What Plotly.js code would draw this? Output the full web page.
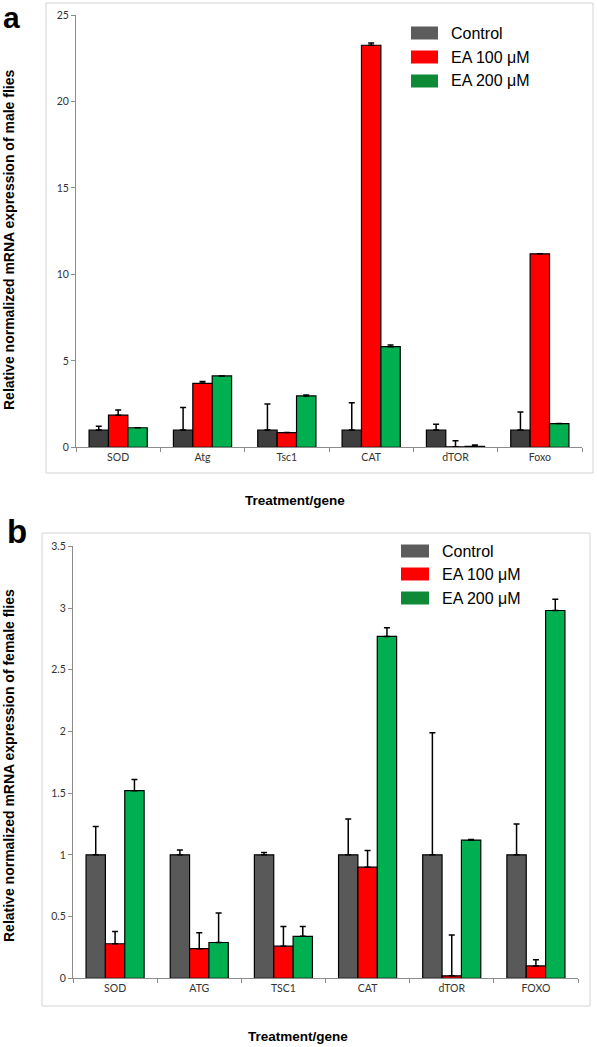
<!DOCTYPE html>
<html>
<head>
<meta charset="utf-8">
<script src="https://cdn.plot.ly/plotly-3.0.1.min.js"></script>
<style>
html,body{margin:0;padding:0;background:#fff;}
#chart{width:597px;height:1047px;}
</style>
</head>
<body>
<div id="chart"></div>
<script>
// ---- Data: panel a (male flies) ----
var genesMale = ["SOD", "Atg", "Tsc1", "CAT", "dTOR", "Foxo"];
var maleControl = [1.0, 1.0, 1.0, 1.0, 1.0, 1.0];
var maleControlErr = [0.22, 1.3, 1.5, 1.58, 0.33, 1.04];
var maleEA100 = [1.86, 3.70, 0.85, 23.25, 0.03, 11.19];
var maleEA100Err = [0.3, 0.1, 0.0, 0.13, 0.35, 0.0];
var maleEA200 = [1.13, 4.13, 2.97, 5.82, 0.05, 1.37];
var maleEA200Err = [0.0, 0.0, 0.05, 0.09, 0.08, 0.0];

// ---- Data: panel b (female flies) ----
var genesFemale = ["SOD", "ATG", "TSC1", "CAT", "dTOR", "FOXO"];
var femaleControl = [1.0, 1.0, 1.0, 1.0, 1.0, 1.0];
var femaleControlErr = [0.23, 0.04, 0.02, 0.29, 0.99, 0.25];
var femaleEA100 = [0.28, 0.24, 0.26, 0.90, 0.02, 0.10];
var femaleEA100Err = [0.10, 0.13, 0.16, 0.135, 0.33, 0.05];
var femaleEA200 = [1.52, 0.29, 0.34, 2.77, 1.12, 2.98];
var femaleEA200Err = [0.09, 0.24, 0.08, 0.07, 0.005, 0.09];

var seriesNames = ["Control", "EA 100 \u03bcM", "EA 200 \u03bcM"];
var maleTickVals = [0, 5, 10, 15, 20, 25];
var femaleTickVals = [0, 0.5, 1, 1.5, 2, 2.5, 3, 3.5];

var colControlA = "#3e3e3e", colControlB = "#595959";
var colRed = "#ff0000", colGreen = "#00b050";
var legendColors = ["#5c5c5c", "#ff0000", "#0e8a36"];

function zeros(n){ var a=[]; for(var i=0;i<n;i++) a.push(0); return a; }

function barTrace(x, y, err, color, xa, ya, name){
  return {
    type: "bar", x: x, y: y, name: name, xaxis: xa, yaxis: ya, showlegend: false,
    marker: {color: color, line: {color: "#000", width: 1.2}},
    error_y: {type: "data", symmetric: false, array: err, arrayminus: zeros(err.length),
              color: "#000", thickness: 1.5, width: 3},
    hoverinfo: "x+y"
  };
}

var data = [
  barTrace(genesMale, maleControl, maleControlErr, colControlA, "x", "y", seriesNames[0]),
  barTrace(genesMale, maleEA100, maleEA100Err, colRed, "x", "y", seriesNames[1]),
  barTrace(genesMale, maleEA200, maleEA200Err, colGreen, "x", "y", seriesNames[2]),
  barTrace(genesFemale, femaleControl, femaleControlErr, colControlB, "x2", "y2", seriesNames[0]),
  barTrace(genesFemale, femaleEA100, femaleEA100Err, colRed, "x2", "y2", seriesNames[1]),
  barTrace(genesFemale, femaleEA200, femaleEA200Err, colGreen, "x2", "y2", seriesNames[2])
];

var W = 597, H = 1047;
function px(x){ return x / W; }
function py(y){ return 1 - y / H; }

var tickFont = {family: "Lato, 'Open Sans', sans-serif", size: 10.5, color: "#333"};

var xCommon = {
  type: "category", showline: true, linecolor: "#8c8c8c", linewidth: 1,
  ticks: "outside", tickson: "boundaries", ticklen: 4, tickcolor: "#8c8c8c",
  tickfont: tickFont, showgrid: false, zeroline: false, fixedrange: true
};
var yCommon = {
  showline: true, linecolor: "#8c8c8c", linewidth: 1,
  ticks: "outside", ticklen: 4, tickcolor: "#8c8c8c",
  tickfont: tickFont, showgrid: false, zeroline: false, fixedrange: true
};

var layout = {
  width: W, height: H,
  margin: {l: 0, r: 0, t: 0, b: 0},
  paper_bgcolor: "#fff", plot_bgcolor: "rgba(0,0,0,0)",
  barmode: "group", bargap: 0.31, bargroupgap: 0,
  showlegend: false,
  font: {family: "'Liberation Sans', Arial, sans-serif"},
  xaxis: Object.assign({}, xCommon, {domain: [px(76), px(582)], anchor: "y"}),
  yaxis: Object.assign({}, yCommon, {domain: [py(447.3), py(15)], anchor: "x",
         range: [0, 25], tickvals: maleTickVals}),
  xaxis2: Object.assign({}, xCommon, {domain: [px(73), px(578)], anchor: "y2"}),
  yaxis2: Object.assign({}, yCommon, {domain: [py(978.3), py(546.3)], anchor: "x2",
         range: [0, 3.5], tickvals: femaleTickVals}),
  shapes: [
    {type: "rect", xref: "paper", yref: "paper", x0: px(46), x1: px(593), y0: py(473), y1: py(3),
     line: {color: "#d4d4d4", width: 1}, fillcolor: "rgba(0,0,0,0)", layer: "below"},
    {type: "rect", xref: "paper", yref: "paper", x0: px(42), x1: px(590), y0: py(1006), y1: py(533),
     line: {color: "#d4d4d4", width: 1}, fillcolor: "rgba(0,0,0,0)", layer: "below"}
  ],
  annotations: [
    {text: "<b>a</b>", xref: "paper", yref: "paper", x: px(2), y: py(0), xanchor: "left", yanchor: "top",
     borderpad: 0, showarrow: false, font: {size: 30, color: "#000"}},
    {text: "<b>b</b>", xref: "paper", yref: "paper", x: px(5), y: py(531), xanchor: "left", yanchor: "middle",
     showarrow: false, font: {size: 33, color: "#000"}},
    {text: "<b>Relative normalized mRNA expression of male flies</b>", xref: "paper", yref: "paper",
     x: px(9), y: py(240), xanchor: "center", yanchor: "middle", textangle: -90, showarrow: false,
     font: {size: 14, color: "#000"}},
    {text: "<b>Relative normalized mRNA expression of female flies</b>", xref: "paper", yref: "paper",
     x: px(9), y: py(766), xanchor: "center", yanchor: "middle", textangle: -90, showarrow: false,
     font: {size: 14, color: "#000"}},
    {text: "<b>Treatment/gene</b>", xref: "paper", yref: "paper", x: px(295), y: py(500),
     xanchor: "center", yanchor: "middle", showarrow: false, font: {size: 13.5, color: "#000"}},
    {text: "<b>Treatment/gene</b>", xref: "paper", yref: "paper", x: px(298), y: py(1036),
     xanchor: "center", yanchor: "middle", showarrow: false, font: {size: 13.5, color: "#000"}}
  ]
};

// Legends (drawn as swatches + text) for both panels
var legendPos = [
  {x0: 411, x1: 438, tx: 449, rows: [33, 57, 81]},
  {x0: 401, x1: 429, tx: 440, rows: [551, 574, 598]}
];
legendPos.forEach(function(lp){
  for (var i = 0; i < seriesNames.length; i++){
    var cy = lp.rows[i];
    layout.shapes.push({type: "rect", xref: "paper", yref: "paper",
      x0: px(lp.x0), x1: px(lp.x1), y0: py(cy + 6.5), y1: py(cy - 6.5),
      fillcolor: legendColors[i], line: {width: 0}});
    layout.annotations.push({text: seriesNames[i], xref: "paper", yref: "paper",
      x: px(lp.tx), y: py(cy), xanchor: "left", yanchor: "middle", showarrow: false,
      font: {size: 16, color: "#000"}});
  }
});

Plotly.newPlot("chart", data, layout, {staticPlot: true});
</script>
</body>
</html>
